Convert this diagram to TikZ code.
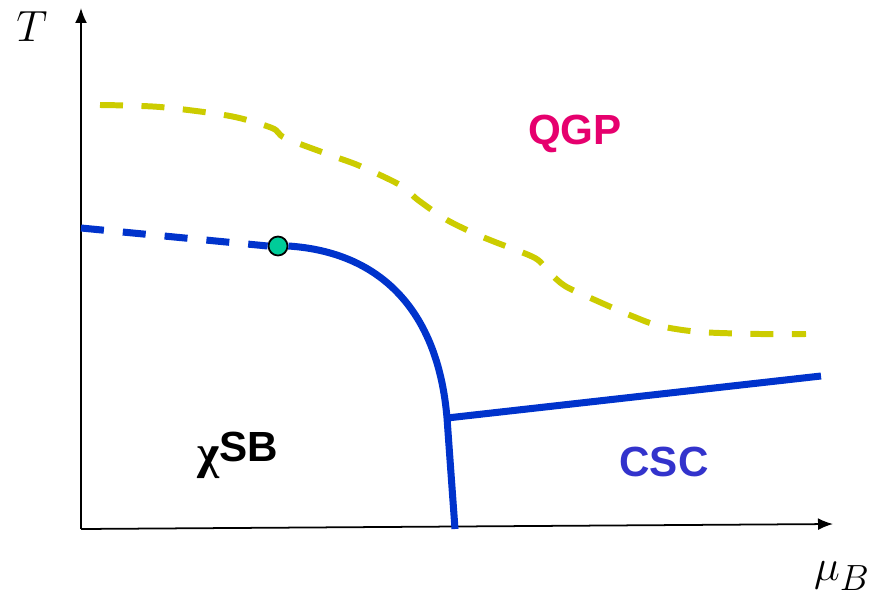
\documentclass[tikz,border=0pt]{standalone}
\usepackage{fontspec}
\newfontfamily\labelfont{Liberation Sans}
\newfontfamily\greekfont{Liberation Serif}
\usepackage{tikz}
\usetikzlibrary{positioning,arrows.meta,calc}
\definecolor{lineblue}{RGB}{0,51,204}
\definecolor{lineyellow}{RGB}{204,204,0}
\definecolor{qgpred}{RGB}{230,0,110}
\definecolor{cscblue}{RGB}{51,51,204}
\definecolor{cpgreen}{RGB}{0,204,153}
\tikzset{
  axis/.style   ={-{Latex[length=3mm, width=2.4mm]}, line width=1pt},
  trans/.style  ={draw=lineblue, line width=4pt},
  xover/.style  ={draw=lineblue, line width=4pt, dash pattern=on 0.46cm off 0.38cm},
  hline/.style  ={draw=lineyellow, line width=3.4pt, dash pattern=on 0.46cm off 0.37cm},
  phase/.style  ={font=\labelfont\bfseries\fontsize{24}{28}\selectfont, inner sep=0pt},
  critpt/.style ={draw, circle, fill=cpgreen, line width=1pt, minimum size=0.38cm, inner sep=0pt},
  axlab/.style  ={font=\fontsize{30}{34}\selectfont, inner sep=0pt},
}

\begin{document}
\begin{tikzpicture}[x=0.02cm, y=-0.02cm]
  \useasboundingbox (0,0) rectangle (875,598);

  % axes
  \coordinate (origin) at (81,529);
  \coordinate (ytip)   at (81,8);
  \coordinate (xtip)   at (833,524);
  \draw[axis] (origin) -- (ytip);
  \draw[axis] (origin) -- (xtip);
  \node[axlab] (Tlab)  at (32,27)  {$T$};
  \node[axlab] (mulab) at (842,576) {$\mu_B$};

  % points on the transition lines
  \node[critpt] (cp) at (278,246) {};
  \coordinate (start) at (81,228);
  \coordinate (tri)   at (447,418);
  \coordinate (foot)  at (455,529);
  \coordinate (cscend) at (821,376);

  % crossover and first order lines
  \draw[xover] (start) -- (cp.west);
  \draw[trans] (cp.east) .. controls (380,252) and (438,310) .. (tri) -- (foot);
  \draw[trans] (tri) -- (cscend);

  % deconfinement, drawn by hand
  \draw[hline] plot[smooth, tension=0.5] coordinates {
    (100,105) (160,107) (230,116) (272,128) (285,138) (330,155) (360,166)
    (400,185) (418,200) (447,220) (480,236) (495,242) (535,258) (549,272)
    (565,286) (595,300) (632,316) (660,326) (700,332) (760,334) (806,334)};

  % phases
  \node[phase, text=qgpred]  (qgp)   at (575,134) {QGP};
  \node[phase, text=cscblue] (csc)   at (664,462) {CSC};
  \node[phase]               (chisb) at (238,455) {\raisebox{-4pt}{\greekfont\fontsize{27}{30}\selectfont χ}SB};
\end{tikzpicture}
\end{document}
